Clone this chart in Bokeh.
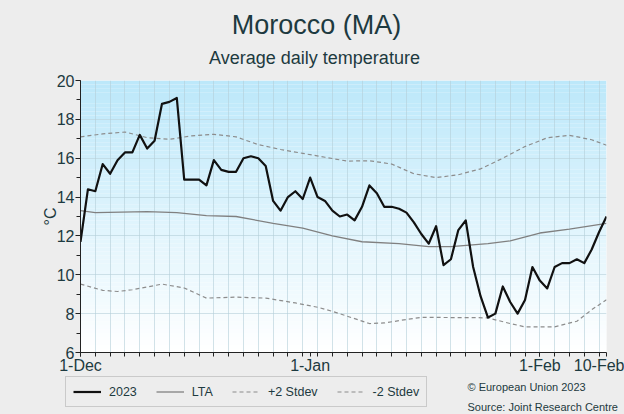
import numpy as np
from bokeh.plotting import figure
from bokeh.layouts import column
from bokeh.models import FixedTicker, Legend, LegendItem, Label, Range1d
from bokeh.embed import file_html
from bokeh.resources import INLINE

# ---------------- data ----------------
# day offset from 1-Dec
days_2023 = list(range(0, 72))
temp_2023 = [11.7, 14.4, 14.3, 15.7, 15.2, 15.9, 16.3, 16.3, 17.2, 16.5,
             16.9, 18.8, 18.9, 19.1, 14.9, 14.9, 14.9, 14.6, 15.9, 15.4,
             15.3, 15.3, 16.0, 16.1, 16.0, 15.6, 13.8, 13.3, 14.0, 14.3,
             13.9, 15.0, 14.0, 13.8, 13.3, 13.0, 13.1, 12.8, 13.5, 14.6,
             14.2, 13.5, 13.5, 13.4, 13.2, 12.7, 12.1, 11.6, 12.5, 10.5,
             10.8, 12.3, 12.8, 10.4, 8.9, 7.8, 8.0, 9.4, 8.6, 8.0,
             8.7, 10.4, 9.7, 9.3, 10.4, 10.6, 10.6, 10.8, 10.6, 11.3,
             12.2, 13.0]

lta_days = [0, 2, 9, 13, 17, 21, 26, 30, 34, 38, 43, 47, 50, 55, 58, 62, 66, 71]
lta_vals = [13.3, 13.2, 13.25, 13.2, 13.04, 13.0, 12.65, 12.4, 12.0, 11.7,
            11.6, 11.45, 11.45, 11.6, 11.75, 12.15, 12.35, 12.65]

up_days = [0, 3, 6, 9, 12, 15, 18, 21, 24, 27, 30, 33, 36, 39, 42, 45, 48,
           51, 54, 57, 60, 63, 66, 69, 71]
up_vals = [17.1, 17.25, 17.35, 17.06, 16.97, 17.15, 17.23, 17.1, 16.7, 16.45,
           16.25, 16.05, 15.85, 15.87, 15.7, 15.2, 15.0, 15.15, 15.45, 16.0,
           16.6, 17.05, 17.18, 16.95, 16.67]

lo_days = [0, 3, 5, 7, 11, 14, 17, 21, 25, 29, 32, 34, 39, 41, 44, 46, 50,
           53, 55, 58, 60, 64, 67, 69, 71]
lo_vals = [9.52, 9.2, 9.14, 9.23, 9.52, 9.32, 8.8, 8.85, 8.8, 8.55, 8.33,
           8.12, 7.49, 7.52, 7.7, 7.81, 7.8, 7.8, 7.78, 7.49, 7.32, 7.32,
           7.61, 8.2, 8.72]

tick_days = [0, 31, 62, 71]
tick_labels = ["1-Dec", "1-Jan", "1-Feb", "10-Feb"]
y_ticks = [6, 8, 10, 12, 14, 16, 18, 20]
series_names = ["2023", "LTA", "+2 Stdev", "-2 Stdev"]

FONT = "Liberation Sans"
TXT = "#1d3a40"
BG = "#ededed"
W = 624
BGSTYLE = {"background-color": BG}


def strip(h):
    f = figure(width=W, height=h, output_backend="svg", toolbar_location=None,
               x_range=Range1d(0, W), y_range=Range1d(0, h),
               x_axis_type=None, y_axis_type=None, min_border=0,
               frame_align=False, styles=BGSTYLE)
    f.background_fill_color = BG
    f.border_fill_color = BG
    f.outline_line_color = None
    f.grid.visible = False
    return f


# ---------------- title strip ----------------
top = strip(70)
top.add_layout(Label(x=316, y=46, x_units="screen", y_units="screen",
                     text="Morocco (MA)", text_align="center", text_baseline="middle",
                     text_font=FONT, text_font_size="27px", text_color=TXT))
top.add_layout(Label(x=314, y=13, x_units="screen", y_units="screen",
                     text="Average daily temperature", text_align="center",
                     text_baseline="middle", text_font=FONT, text_font_size="18px",
                     text_color=TXT))

# ---------------- main plot ----------------
p = figure(width=W, height=306, output_backend="svg", toolbar_location=None,
           x_range=Range1d(0, 71), y_range=Range1d(6, 20),
           min_border_left=80, min_border_right=18, min_border_top=10,
           min_border_bottom=22, frame_align=False, styles=BGSTYLE)
p.background_fill_color = "white"
p.border_fill_color = BG
p.outline_line_color = None

# gradient background bands (light cyan top -> white bottom)
edges = np.linspace(6, 20, 71)
top_c = np.array([0xbc, 0xe8, 0xfa])
bot_c = np.array([0xff, 0xff, 0xff])
cols = []
for i in range(len(edges) - 1):
    t = (0.5 * (edges[i] + edges[i + 1]) - 6) / 14.0
    c = bot_c + (top_c - bot_c) * t
    cols.append("#%02x%02x%02x" % tuple(int(round(v)) for v in c))
p.quad(left=0, right=71, bottom=edges[:-1], top=edges[1:], fill_color=cols,
       line_color=None, level="underlay")

# grids
p.xgrid.ticker = FixedTicker(ticks=list(range(0, 72, 2)))
p.xgrid.grid_line_color = "#b4cfd9"
p.xgrid.grid_line_alpha = 0.6
p.ygrid.grid_line_color = "#b4cfd9"
p.ygrid.grid_line_alpha = 0.6

STYLE = {
    "2023": dict(line_color="#111111", line_width=2.2),
    "LTA": dict(line_color="#808080", line_width=1.3),
    "+2 Stdev": dict(line_color="#8c8c8c", line_width=1.2, line_dash="4 3"),
    "-2 Stdev": dict(line_color="#8c8c8c", line_width=1.2, line_dash="4 3"),
}

p.line(up_days, up_vals, **STYLE["+2 Stdev"])
p.line(lo_days, lo_vals, **STYLE["-2 Stdev"])
p.line(lta_days, lta_vals, **STYLE["LTA"])
p.line(days_2023, temp_2023, line_join="round", **STYLE["2023"])

# axes
p.xaxis.ticker = FixedTicker(ticks=tick_days, minor_ticks=list(range(0, 72, 2)))
p.xaxis.major_label_overrides = {d: l for d, l in zip(tick_days, tick_labels)}
p.yaxis.ticker = FixedTicker(ticks=y_ticks, minor_ticks=list(range(6, 21)))
for ax in (p.xaxis[0], p.yaxis[0]):
    ax.axis_line_color = "#222222"
    ax.major_tick_line_color = "#222222"
    ax.minor_tick_line_color = "#222222"
    ax.major_tick_out = 4
    ax.major_tick_in = 0
    ax.minor_tick_out = 4
    ax.minor_tick_in = 0
    ax.major_label_text_font = FONT
    ax.major_label_text_font_size = "16px"
    ax.major_label_text_color = TXT
    ax.major_label_standoff = 0
p.yaxis.major_tick_out = 5
p.yaxis.major_label_standoff = 1
p.yaxis.axis_label = "°C"
p.yaxis.axis_label_text_font = FONT
p.yaxis.axis_label_text_font_style = "normal"
p.yaxis.axis_label_text_font_size = "16px"
p.yaxis.axis_label_text_color = TXT
p.yaxis.axis_label_standoff = -5

# ---------------- bottom strip: legend + source ----------------
bot = strip(38)
items = []
for name in series_names:
    # legend-only sample renderer (a single NaN point draws nothing)
    r = bot.line(x=[np.nan], y=[np.nan], **STYLE[name])
    items.append(LegendItem(label=name, renderers=[r]))
legend = Legend(items=items, orientation="horizontal", location=(65, 7),
                background_fill_color=BG, background_fill_alpha=1,
                border_line_color="#a8a8a8", border_line_width=1.5,
                label_text_font=FONT, label_text_font_size="12.5px",
                label_text_color=TXT, glyph_width=28, glyph_height=15,
                label_standoff=8, spacing=19, padding=7, margin=0)
bot.add_layout(legend, "center")
bot.add_layout(Label(x=467, y=28, x_units="screen", y_units="screen",
                     text="© European Union 2023", text_baseline="middle",
                     text_font=FONT, text_font_size="11px", text_color=TXT))
bot.add_layout(Label(x=467, y=8, x_units="screen", y_units="screen",
                     text="Source: Joint Research Centre", text_baseline="middle",
                     text_font=FONT, text_font_size="11px", text_color=TXT))

layout = column(top, p, bot, spacing=0, styles=BGSTYLE)
html = file_html(layout, INLINE)
html = html.replace("<body>", '<body style="background-color:%s">' % BG, 1)
open("out.html", "w").write(html)
